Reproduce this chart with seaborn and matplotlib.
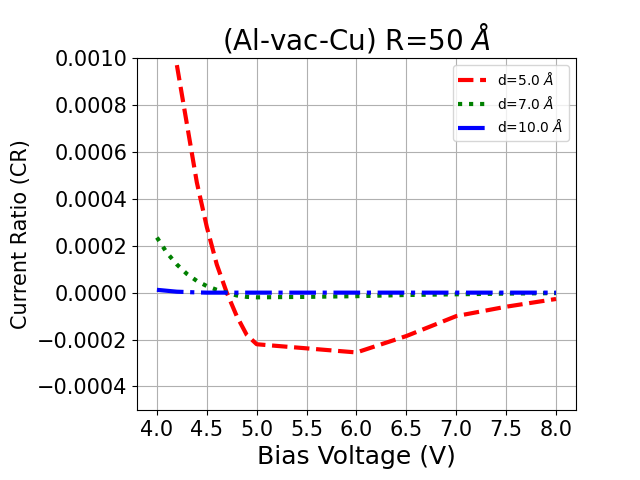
import matplotlib
matplotlib.use('Agg')
import matplotlib.pyplot as plt
import numpy as np
import seaborn as sns

# du lieu doc tu hinh
v_d5 = [4.2, 4.3, 4.4, 4.5, 4.6, 4.7, 4.8, 4.9, 5.0, 6.0, 6.5, 7.0, 7.5, 8.0]
cr_d5 = [0.00097, 0.00072, 0.00047, 0.00028, 0.00012, 0.0, -0.0001, -0.00018,
         -0.00022, -0.000255, -0.000185, -0.0001, -0.00006, -0.000027]

v_d7 = [4.0, 4.1, 4.2, 4.3, 4.4, 4.5, 4.6, 4.7, 4.8, 4.9, 5.0, 5.5, 6.0, 6.5, 7.0, 7.5, 8.0]
cr_d7 = [0.000235, 0.00017, 0.00012, 0.00008, 0.00005, 0.000028, 0.000012, 0.0,
         -0.000012, -0.000018, -0.00002, -0.000018, -0.000015, -0.00001,
         -0.000007, -0.000004, -0.000002]

v_d10 = [4.0, 4.2, 4.4, 4.5, 5.0, 5.5, 6.0, 6.5, 7.0, 7.5, 8.0]
cr_d10 = [0.000012, 0.000004, 0.000001, 0.0, 0.0, 0.0, 0.0, 0.0, 0.0, 0.0, 0.0]

x_ticks = [4.0, 4.5, 5.0, 5.5, 6.0, 6.5, 7.0, 7.5, 8.0]

fig, ax = plt.subplots(figsize=(6.4, 4.8), dpi=100)

sns.lineplot(x=v_d5, y=cr_d5, ax=ax, color='red', linestyle='--', linewidth=3,
             label=r'd=5.0 $\AA$')
sns.lineplot(x=v_d7, y=cr_d7, ax=ax, color='green', linestyle=':', linewidth=3,
             label=r'd=7.0 $\AA$')
sns.lineplot(x=v_d10, y=cr_d10, ax=ax, color='blue', linestyle='-.', linewidth=3,
             label=r'd=10.0 $\AA$')

ax.set_ylim(-0.0005, 0.001)
ax.set_xticks(x_ticks)
ax.set_xticklabels([f'{t:.1f}' for t in x_ticks])
ax.set_title(r'(Al-vac-Cu) R=50 $\AA$', fontsize=20)
ax.set_xlabel('Bias Voltage (V)', fontsize=18)
ax.set_ylabel('Current Ratio (CR)', fontsize=15)
ax.tick_params(labelsize=15)
ax.grid(True)
ax.legend(loc='upper right', fontsize=10)

plt.subplots_adjust(left=0.214, right=0.9, bottom=0.146, top=0.879)
plt.savefig('out.png')
